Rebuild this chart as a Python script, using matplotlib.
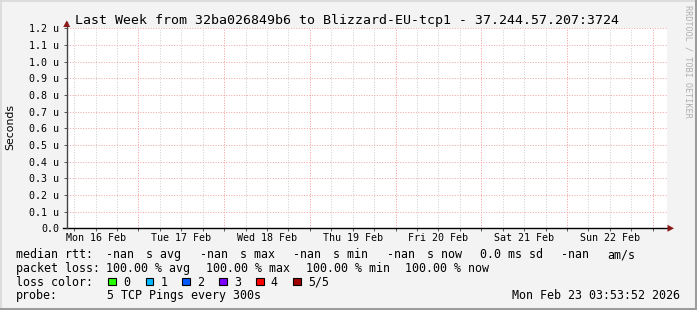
import matplotlib
matplotlib.use('Agg')
import matplotlib.pyplot as plt
import matplotlib.dates as mdates
from matplotlib.patches import Rectangle, Polygon
from matplotlib.lines import Line2D
from matplotlib.transforms import blended_transform_factory
from datetime import datetime, timedelta

W, H = 697, 310
MONO = 'DejaVu Sans Mono'

# --- datos del grafico ---
titulo = 'Last Week from 32ba026849b6 to Blizzard-EU-tcp1 - 37.244.57.207:3724'
t_inicio = datetime(2026, 2, 16, 3, 53, 52)
t_fin = datetime(2026, 2, 23, 3, 53, 52)

dias = [datetime(2026, 2, d) for d in range(16, 23)]
etiquetas_dias = ['Mon 16 Feb', 'Tue 17 Feb', 'Wed 18 Feb', 'Thu 19 Feb',
                  'Fri 20 Feb', 'Sat 21 Feb', 'Sun 22 Feb']

y_ticks_us = [0.0, 0.1, 0.2, 0.3, 0.4, 0.5, 0.6, 0.7, 0.8, 0.9, 1.0, 1.1, 1.2]
y_max_us = 1.2

rtt_valores = ['-nan', '-nan', '-nan', '-nan']
rtt_unidades = ['s avg', 's max', 's min', 's now']
rtt_sd = '0.0 ms sd'
rtt_am = '-nan'

perdida_valores = ['100.00', '100.00', '100.00', '100.00']
perdida_unidades = ['% avg', '% max', '% min', '% now']

colores_perdida = ['#26ff00', '#00b8ff', '#0059ff', '#7e00ff', '#ff0000', '#a10000']
etiquetas_perdida = ['0', '1', '2', '3', '4', '5/5']

sonda = '5 TCP Pings every 300s'
fecha_generado = 'Mon Feb 23 03:53:52 2026'


def fx(x):
    return x / W


def fy(y):
    return 1 - y / H


fig = plt.figure(figsize=(W / 100, H / 100), dpi=100, facecolor='#f3f3f3')

# marco 3D
fig.add_artist(Line2D([fx(0.5), fx(0.5)], [0, 1], color='#d8d8d8', lw=1.2))
fig.add_artist(Line2D([0, 1], [fy(0.5), fy(0.5)], color='#d8d8d8', lw=1.2))
fig.add_artist(Line2D([fx(695.8), fx(695.8)], [0, 1], color='#9c9c9c', lw=2.2))
fig.add_artist(Line2D([0, 1], [fy(308.8), fy(308.8)], color='#9c9c9c', lw=2.2))

x0, x1, y0, y1 = 66.7, 666.7, 28.3, 228.3
ax = fig.add_axes([fx(x0), fy(y1), (x1 - x0) / W, (y1 - y0) / H])
ax.set_facecolor('white')
ax.set_xlim(t_inicio, t_fin)
ax.set_ylim(0, y_max_us * 1e-6)

for s in ax.spines.values():
    s.set_visible(False)

ax.xaxis.set_major_locator(mdates.DayLocator())
ax.xaxis.set_minor_locator(mdates.HourLocator(byhour=[6, 12, 18]))
ax.xaxis.set_major_formatter(plt.NullFormatter())
ax.set_yticks([v * 1e-6 for v in y_ticks_us])
ax.set_yticklabels(['0.0' if v == 0 else f'{v:.1f} u' for v in y_ticks_us],
                   family=MONO, fontsize=7.2)

punteado = (0, (1, 1.6))
ax.grid(True, axis='x', which='minor', color='#cfcfcf', lw=0.72, ls=punteado)
ax.grid(True, axis='x', which='major', color='#f59a9a', lw=0.72, ls=punteado)
ax.grid(True, axis='y', which='major', color='#f2a6a6', lw=0.72, ls=punteado)
ax.set_axisbelow(True)

ax.tick_params(axis='x', which='both', length=2.2, width=0.7, direction='out',
               color='#555555', pad=1)
ax.tick_params(axis='y', which='major', length=2.4, width=0.7, direction='out',
               color='#555555', pad=3.2)

# ejes con flechas
ax.add_line(Line2D([-0.007, 1.005], [0, 0], transform=ax.transAxes,
                   color='black', lw=1.0, clip_on=False))
ax.add_line(Line2D([0, 0], [0, 1.03], transform=ax.transAxes,
                   color='#444444', lw=1.0, clip_on=False))
fig.add_artist(Polygon([[fx(63.2), fy(27)], [fx(70.2), fy(27)], [fx(66.7), fy(20.5)]],
                       closed=True, color='#8b1a1a', lw=0))
fig.add_artist(Polygon([[fx(667.5), fy(224.8)], [fx(667.5), fy(231.8)], [fx(674), fy(228.3)]],
                       closed=True, color='#8b1a1a', lw=0))

# etiquetas de los dias, centradas a mediodia
tr = blended_transform_factory(ax.transData, ax.transAxes)
for d, lab in zip(dias, etiquetas_dias):
    ax.text(d + timedelta(hours=12), (y1 - 241.2) / (y1 - y0), lab, transform=tr,
            ha='center', va='baseline', family=MONO, fontsize=7.2, color='black')

# titulo y textos laterales
fig.text(fx(347.3), fy(24), titulo, ha='center', va='baseline',
         family=MONO, fontsize=9.55, color='black')
fig.text(fx(10.5), fy(127), 'Seconds', rotation=90, ha='center', va='center',
         family='DejaVu Sans', fontsize=7.8, color='black')
fig.text(fx(688), fy(61), 'RRDTOOL / TOBI OETIKER', rotation=-90, ha='center',
         va='center', family=MONO, fontsize=6.1, color='#b0b0b0')

# leyenda
fs = 8.4
filas = [258.3, 271.7, 285.5, 299.2]


def txt(x, y, s, ha='left'):
    fig.text(fx(x), fy(y), s, ha=ha, va='baseline', family=MONO, fontsize=fs, color='black')


txt(15.5, filas[0], 'median rtt:')
pos_val = [105.7, 199.7, 293.0, 386.6]
pos_uni = [145.7, 239.7, 333.3, 426.6]
for xv, xu, v, u in zip(pos_val, pos_uni, rtt_valores, rtt_unidades):
    txt(xv, filas[0], v)
    txt(xu, filas[0], u)
txt(480.3, filas[0], rtt_sd)
txt(560.6, filas[0], rtt_am)
txt(607.4, filas[0], 'am/s')

txt(15.5, filas[1], 'packet loss:')
for xv, v, u in zip([106.4, 206.4, 306.4, 405.0], perdida_valores, perdida_unidades):
    txt(xv, filas[1], f'{v} {u}')

txt(15.5, filas[2], 'loss color:')
x_caja = [108.3, 145.7, 182.3, 219.3, 256.0, 293.3]
for xc, c, lab in zip(x_caja, colores_perdida, etiquetas_perdida):
    fig.add_artist(Rectangle((fx(xc), fy(285.2)), 7.6 / W, 7.6 / H, facecolor=c,
                             edgecolor='black', lw=0.8))
    txt(xc + 14.5, filas[2], lab)

txt(15.5, filas[3], 'probe:')
txt(106.8, filas[3], sonda)
txt(680.5, filas[3], fecha_generado, ha='right')

fig.savefig('out.png', dpi=100, facecolor=fig.get_facecolor())
